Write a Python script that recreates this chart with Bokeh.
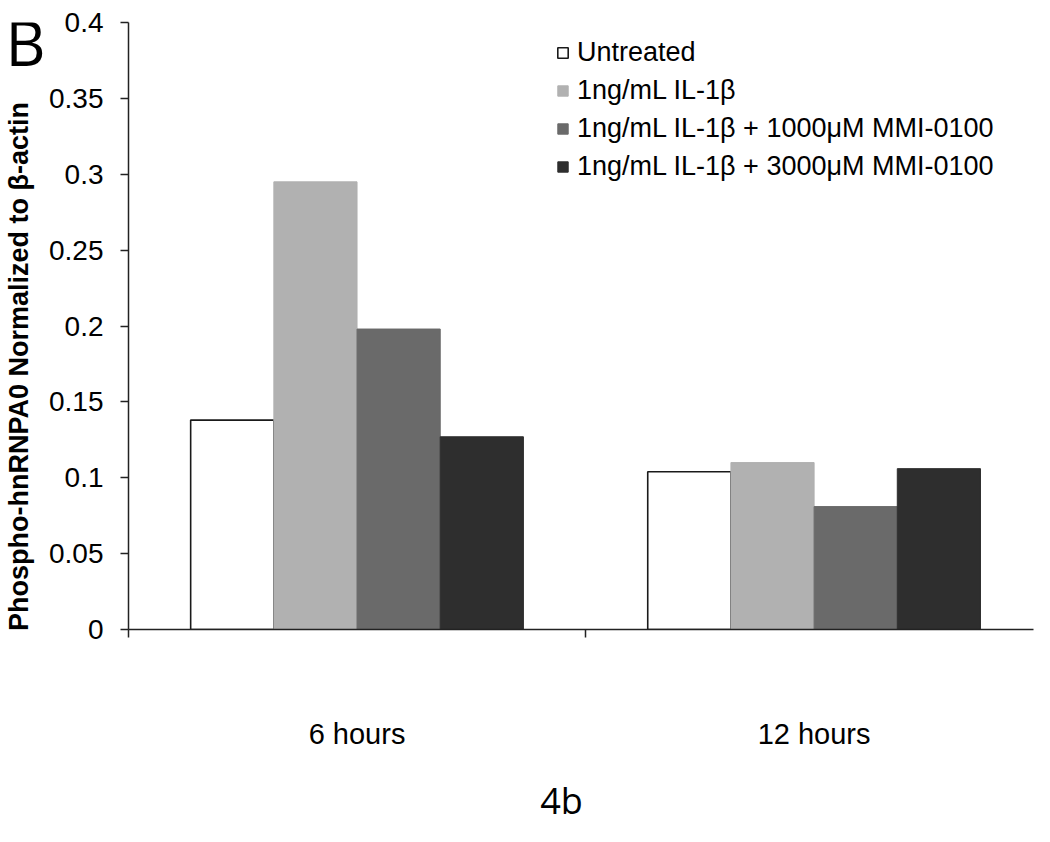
import math
from bokeh.plotting import figure
from bokeh.layouts import row, column
from bokeh.models import Range1d, FixedTicker, Label, Legend, LegendItem, ColumnDataSource
from bokeh.embed import file_html
from bokeh.resources import INLINE

# ---- data ----
groups = ["6 hours", "12 hours"]
series = ["Untreated", "1ng/mL IL-1β", "1ng/mL IL-1β + 1000μM MMI-0100", "1ng/mL IL-1β + 3000μM MMI-0100"]
untreated = [0.138, 0.104]
il1b = [0.295, 0.110]
mmi1000 = [0.198, 0.081]
mmi3000 = [0.127, 0.106]
y_ticks = [0, 0.05, 0.1, 0.15, 0.2, 0.25, 0.3, 0.35, 0.4]
y_tick_labels = ["0", "0.05", "0.1", "0.15", "0.2", "0.25", "0.3", "0.35", "0.4"]

fills = ["#ffffff", "#b1b1b1", "#6a6a6a", "#2e2e2e"]
lines = ["#1a1a1a", "#b1b1b1", "#6a6a6a", "#2e2e2e"]
ARIAL = "Liberation Sans"

LEFT_W = 46
MAIN_H = 776
TOTAL_W, TOTAL_H = 1034, 826


def blank(width, height):
    f = figure(width=width, height=height, x_range=Range1d(0, 1), y_range=Range1d(0, 1),
               output_backend="svg", toolbar_location=None, title_location=None,
               x_axis_location=None, y_axis_location=None, min_border=0)
    f.grid.visible = False
    f.outline_line_color = None
    return f


# ---- left strip: panel letter and y-axis title ----
lp = blank(LEFT_W, MAIN_H)
lp.add_layout(Label(x=18, y=366, x_units="canvas", y_units="canvas",
                    text="Phospho-hnRNPA0 Normalized to β-actin", angle=math.pi / 2,
                    text_align="center", text_baseline="alphabetic",
                    text_font=ARIAL, text_font_style="bold", text_font_size="27px",
                    text_color="black"))
lp.add_layout(Label(x=5, y=41, x_units="canvas", y_units="canvas", text="B",
                    text_align="left", text_baseline="alphabetic",
                    text_font="Open Sans", text_font_size="62px", text_color="black"))

# ---- main chart ----
p = figure(width=TOTAL_W - LEFT_W, height=MAIN_H, x_range=Range1d(0, 1.98), y_range=Range1d(0, 0.4),
           output_backend="svg", toolbar_location=None, title_location=None,
           min_border_left=128 - LEFT_W, min_border_right=1, min_border_top=22,
           min_border_bottom=MAIN_H - 629)
p.xgrid.visible = False
p.ygrid.visible = False
p.outline_line_color = None
p.background_fill_color = "white"

w = 0.182
items = []
for j, (name, vals) in enumerate(zip(series, [untreated, il1b, mmi1000, mmi3000])):
    xs = [i + 0.5 + (j - 1.5) * w for i in range(len(groups))]
    src = ColumnDataSource(dict(x=xs, top=vals))
    r = p.vbar(x="x", top="top", bottom=0, width=w, source=src,
               fill_color=fills[j], line_color=lines[j], line_width=1.6 if j == 0 else 1)
    items.append(LegendItem(label=name, renderers=[r]))

legend = Legend(items=items, location=(428, 447), orientation="vertical",
                glyph_width=13, glyph_height=13, label_text_font=ARIAL,
                label_text_font_size="27px", label_text_color="black",
                label_standoff=8, spacing=7, padding=0, margin=0, label_height=30,
                border_line_color=None, background_fill_alpha=0)
p.add_layout(legend)

axis_color = "#222222"
xa = p.xaxis[0]
xa.ticker = FixedTicker(ticks=[0.5, 1.5], minor_ticks=[0, 1, 2])
xa.major_label_overrides = {0.5: groups[0], 1.5: groups[1]}
xa.major_tick_line_color = None
xa.major_tick_out = 0
xa.major_tick_in = 0
xa.minor_tick_out = 8
xa.minor_tick_in = 0
xa.minor_tick_line_color = axis_color
xa.minor_tick_line_width = 1.5
xa.axis_line_color = axis_color
xa.axis_line_width = 1.5
xa.major_label_standoff = 80
xa.major_label_text_font = ARIAL
xa.major_label_text_font_size = "29px"
xa.major_label_text_color = "black"

ya = p.yaxis[0]
ya.ticker = FixedTicker(ticks=y_ticks)
ya.major_label_overrides = {t: s for t, s in zip(y_ticks, y_tick_labels)}
ya.major_tick_out = 8
ya.major_tick_in = 0
ya.major_tick_line_color = axis_color
ya.major_tick_line_width = 1.5
ya.minor_tick_line_color = None
ya.axis_line_color = axis_color
ya.axis_line_width = 1.5
ya.major_label_standoff = 17
ya.major_label_text_font = ARIAL
ya.major_label_text_font_size = "28px"
ya.major_label_text_color = "black"

# ---- bottom strip: figure caption ----
bp = blank(TOTAL_W, TOTAL_H - MAIN_H)
bp.add_layout(Label(x=561, y=24, x_units="canvas", y_units="canvas", text="4b",
                    text_align="center", text_baseline="alphabetic",
                    text_font="Open Sans", text_font_size="36px", text_color="black"))

layout = column(row(lp, p, spacing=0), bp, spacing=0)
open("out.html", "w").write(file_html(layout, INLINE))
